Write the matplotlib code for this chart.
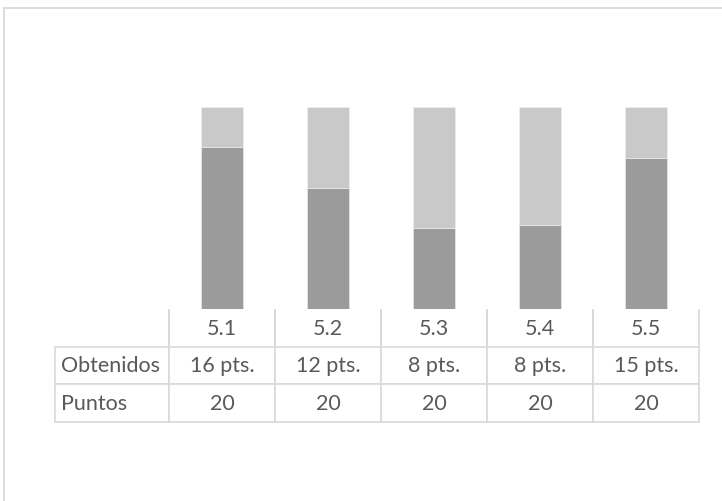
import numpy as np
import matplotlib
matplotlib.use("Agg")
import matplotlib.pyplot as plt
from matplotlib.patches import Rectangle

plt.rcParams["font.family"] = ["Lato", "DejaVu Sans"]

# data
categorias = ["5.1", "5.2", "5.3", "5.4", "5.5"]
obtenidos_txt = ["16 pts.", "12 pts.", "8 pts.", "8 pts.", "15 pts."]
puntos = [20, 20, 20, 20, 20]
# heights of the dark part
obtenidos_barra = [16, 12, 8, 8.3, 15]

dark = "#9b9b9b"
light = "#c9c9c9"
text_c = "#595959"
line_c = "#d9d9d9"

W, H = 722, 502
fig = plt.figure(figsize=(W / 100, H / 100), dpi=100)

# axes in pixel terms: x 169..699, y 108..310
ax = fig.add_axes([169 / W, (H - 310) / H, (699 - 169) / W, (310 - 108) / H])

x = np.arange(len(categorias))
pct_dark = np.array(obtenidos_barra) / np.array(puntos) * 100
pct_light = 100 - pct_dark
ax.bar(x, pct_dark, width=0.4, color=dark, edgecolor="#f0f0f0", linewidth=0.4)
ax.bar(x, pct_light, bottom=pct_dark, width=0.4, color=light,
       edgecolor="#f0f0f0", linewidth=0.4)
ax.set_xlim(-0.5, len(categorias) - 0.5)
ax.set_ylim(0, 100)
ax.axis("off")

# data table under the bars
cell_text = [["Obtenidos"] + obtenidos_txt,
             ["Puntos"] + [str(p) for p in puntos]]
col_labels = [""] + categorias
col_w = [114] + [106] * len(categorias)
tot = sum(col_w)
w_ax = 699 - 169
h_ax = 310 - 108
tbl = ax.table(cellText=cell_text, colLabels=col_labels,
               colWidths=[c / tot for c in col_w],
               cellLoc="center",
               bbox=[(55 - 169) / w_ax, -(423 - 310) / h_ax, tot / w_ax, (423 - 310) / h_ax])
tbl.auto_set_font_size(False)
for (r, c), cell in tbl.get_celld().items():
    cell.set_edgecolor(line_c)
    cell.set_linewidth(1.2)
    cell.set_text_props(color=text_c, fontsize=15.5)
    if r == 0:
        cell.visible_edges = "R" if c == 0 else "LR"
    if c == 0 and r > 0:
        cell.get_text().set_ha("left")
        cell.PAD = 0.05

# outer chart frame (right and bottom are cut off)
fig.add_artist(Rectangle((4 / W, -0.1), 1.2, (H - 9) / H + 0.1, transform=fig.transFigure,
                         fill=False, edgecolor=line_c, linewidth=1.3))

fig.savefig("out.png", dpi=100)
